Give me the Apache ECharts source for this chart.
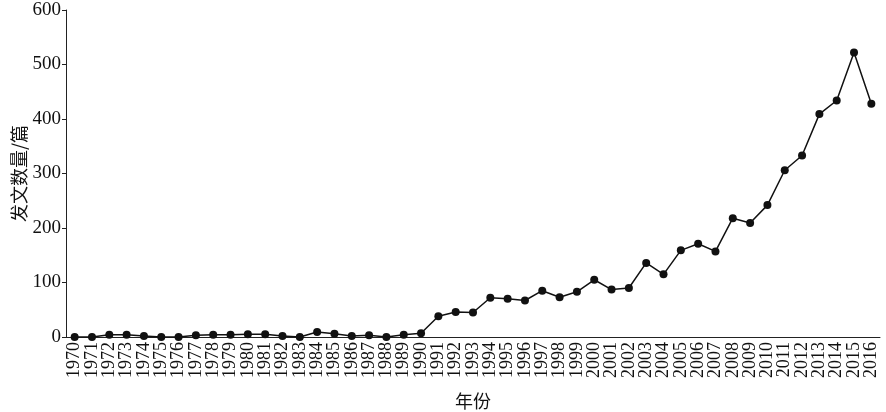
<!DOCTYPE html>
<html><head><meta charset="utf-8">
<script src="https://cdn.jsdelivr.net/npm/echarts@6/dist/echarts.min.js"></script>
<style>html,body{margin:0;padding:0;background:#fff}#c{width:886px;height:412px}</style>
</head><body><div id="c"></div>
<script>
const years = ['1970','1971','1972','1973','1974','1975','1976','1977','1978','1979','1980','1981','1982','1983','1984','1985','1986','1987','1988','1989','1990','1991','1992','1993','1994','1995','1996','1997','1998','1999','2000','2001','2002','2003','2004','2005','2006','2007','2008','2009','2010','2011','2012','2013','2014','2015','2016'];
const counts = [0,0,4,4,2,0,0,3,4,4,5,5,2,0,9,6,2,3,0,4,7,38,46,45,72,70,67,85,73,83,105,87,90,136,115,159,171,157,218,209,242,306,333,409,434,522,428];
const yTicks = [0,100,200,300,400,500,600];

const chart = echarts.init(document.getElementById('c'));
const serif = 'Liberation Serif, Times New Roman, serif';
chart.setOption({
  animation:false,
  grid:{left:66,right:6,top:10,bottom:75,containLabel:false,outerBoundsMode:'none'},
  xAxis:{
    type:'category', data:years, boundaryGap:true,
    name:'年份', nameLocation:'middle', nameGap:55, nameMoveOverlap:false,
    nameTextStyle:{fontFamily:'Noto Sans CJK SC',fontSize:18,color:'#111'},
    axisLine:{lineStyle:{color:'#222',width:1}},
    axisTick:{alignWithLabel:true,length:4,lineStyle:{color:'#222'}},
    axisLabel:{rotate:90,interval:0,fontFamily:serif,fontSize:18,color:'#111',margin:5}
  },
  yAxis:{
    type:'value', min:yTicks[0], max:yTicks[yTicks.length-1], interval:100,
    name:'发文数量/篇', nameLocation:'middle', nameGap:38, nameRotate:90, nameMoveOverlap:false,
    nameTextStyle:{fontFamily:'Noto Sans CJK SC',fontSize:18,color:'#111'},
    axisLine:{show:true,lineStyle:{color:'#222',width:1}},
    axisTick:{show:true,length:4,lineStyle:{color:'#222'}},
    splitLine:{show:false},
    axisLabel:{fontFamily:serif,fontSize:19,color:'#111',margin:5}
  },
  series:[{
    type:'line', data:counts, symbol:'circle', symbolSize:8,
    itemStyle:{color:'#111'}, lineStyle:{color:'#111',width:1.5}
  }]
});
</script></body></html>
